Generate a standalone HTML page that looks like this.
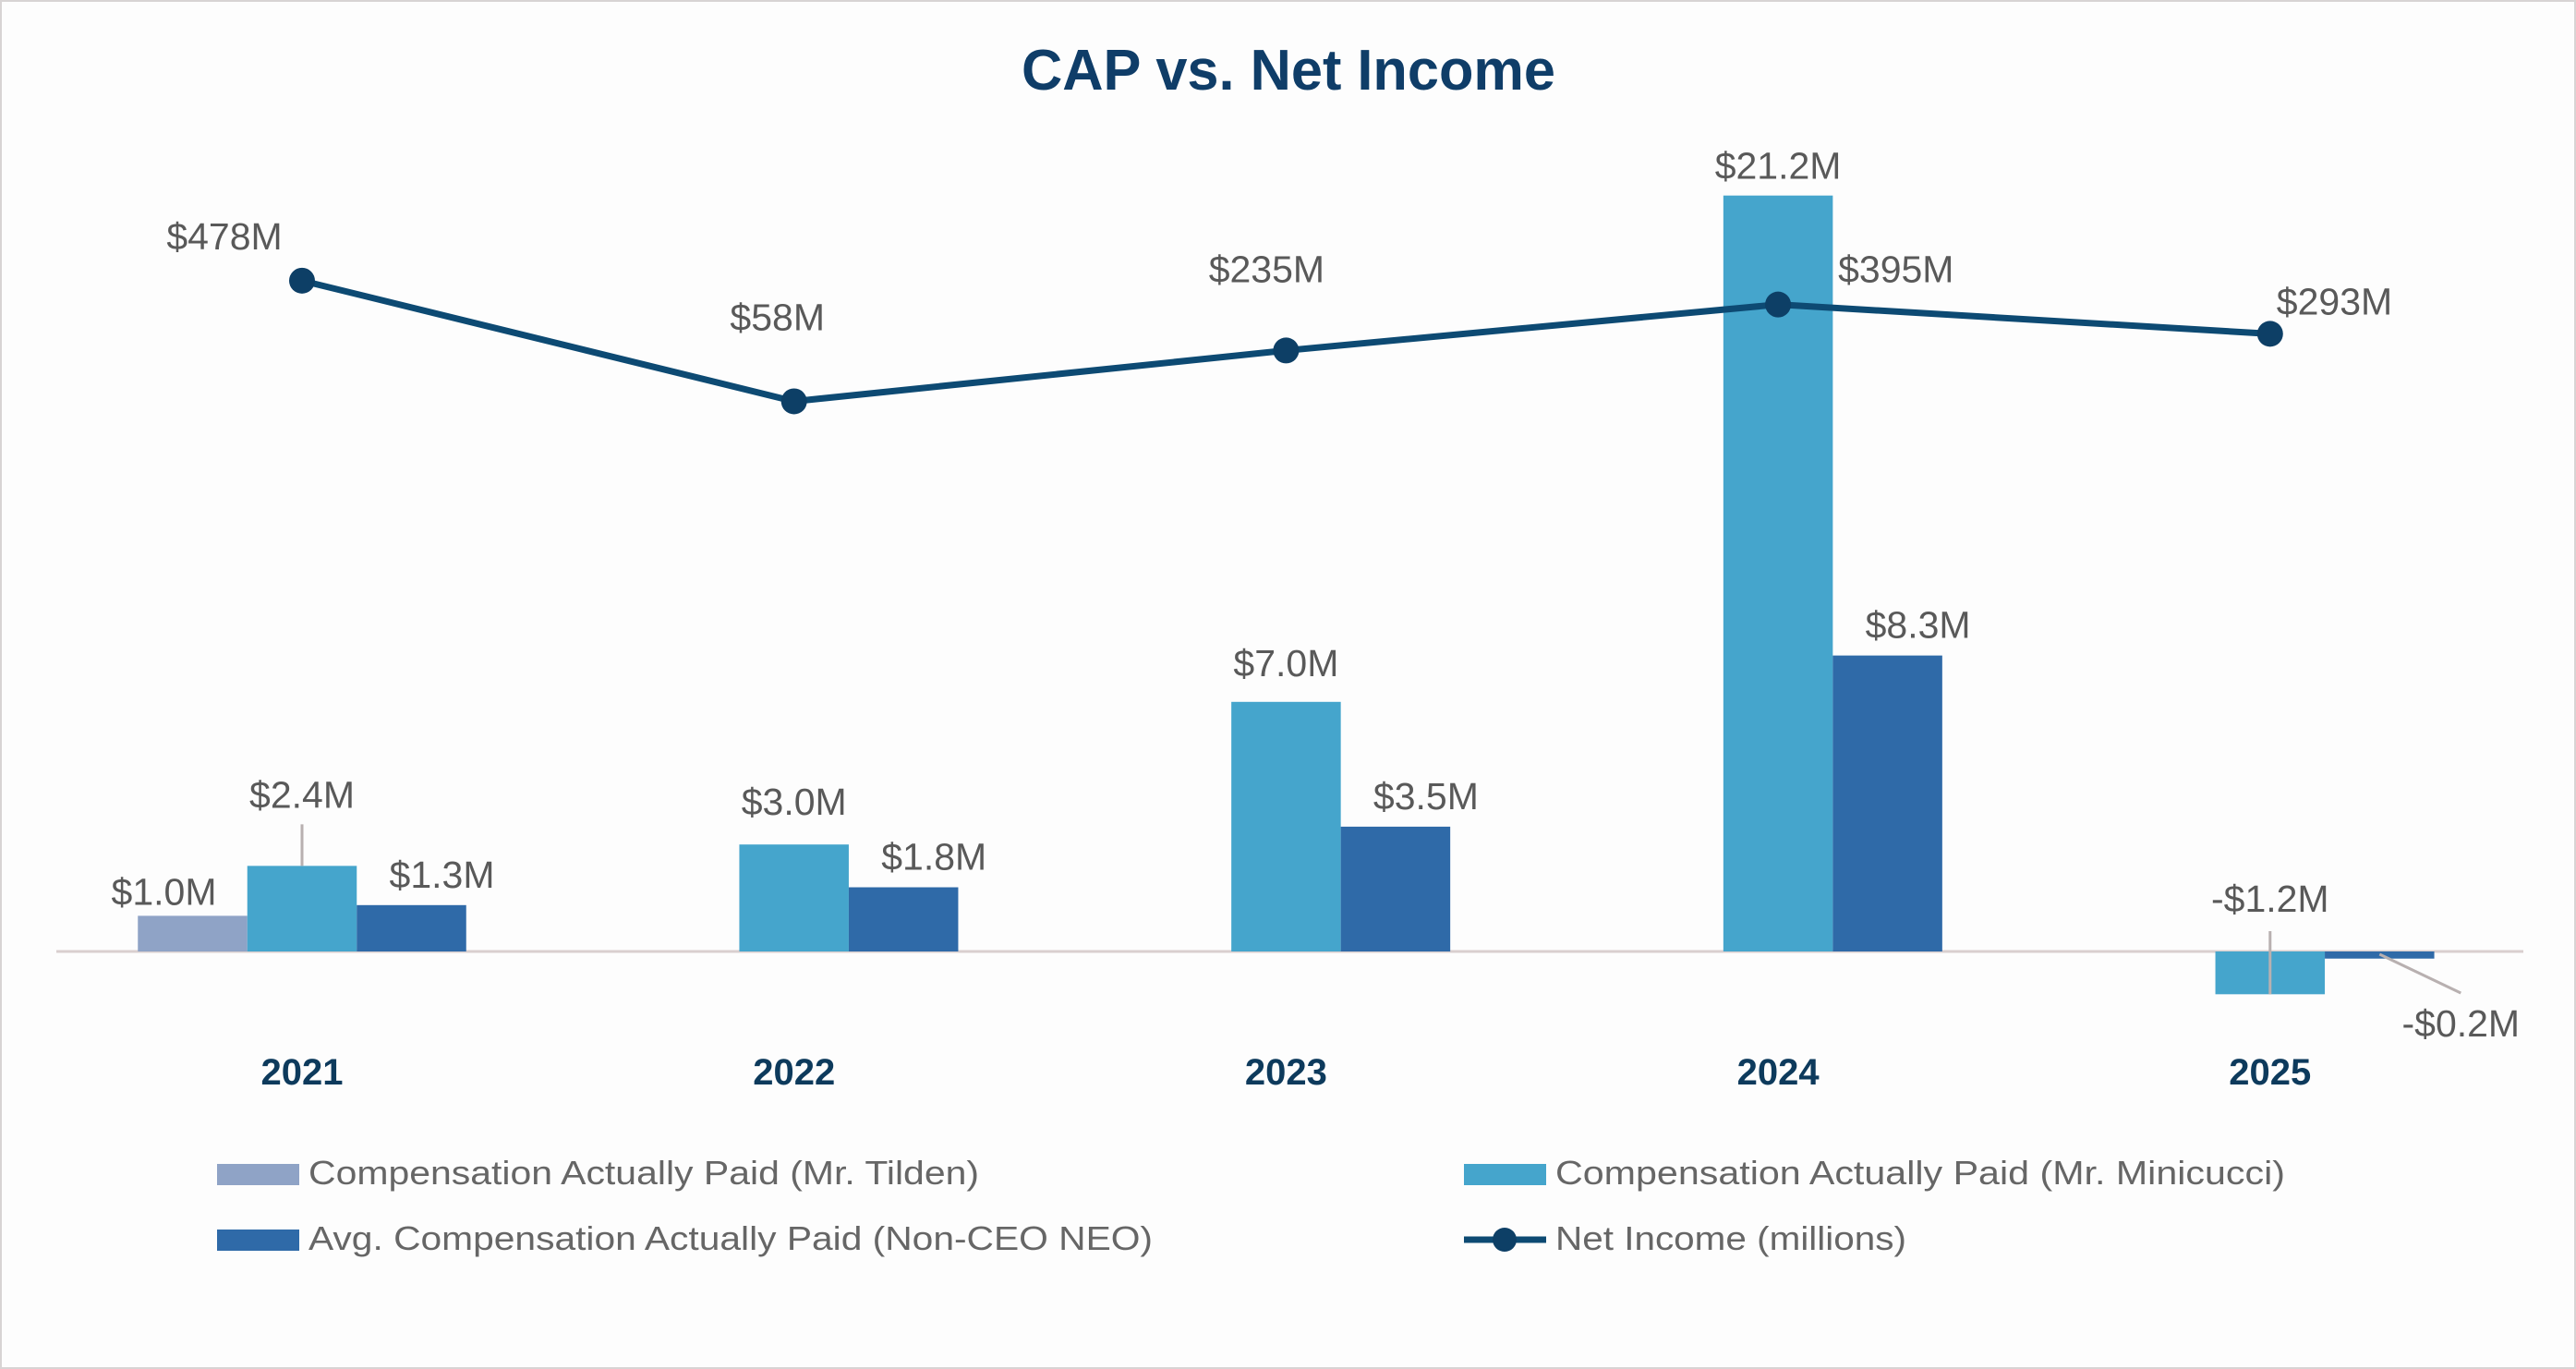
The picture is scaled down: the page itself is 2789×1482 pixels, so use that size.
<!DOCTYPE html>
<html><head><meta charset="utf-8"><title>CAP vs. Net Income</title>
<style>
html,body{margin:0;padding:0;background:#fff;}
svg{display:block;font-family:"Liberation Sans",sans-serif;}
</style></head>
<body>
<svg id="chart" width="2789" height="1482" viewBox="0 0 2789 1482">
<rect x="0" y="0" width="2789" height="1482" fill="#fdfdfd" stroke="#d8d4d4" stroke-width="4"/>
<text x="1395" y="97" text-anchor="middle" font-size="62" font-weight="bold" fill="#0f3d68" textLength="578" lengthAdjust="spacingAndGlyphs">CAP vs. Net Income</text>
<g id="plot"></g>
<g id="legend">
  <rect x="235" y="1260" width="89" height="23" fill="#8fa3c6"/>
  <text x="334" y="1282" font-size="36" fill="#666" textLength="726" lengthAdjust="spacingAndGlyphs">Compensation Actually Paid (Mr. Tilden)</text>
  <rect x="235" y="1331" width="89" height="23" fill="#2f6aa8"/>
  <text x="334" y="1353" font-size="36" fill="#666" textLength="914" lengthAdjust="spacingAndGlyphs">Avg. Compensation Actually Paid (Non-CEO NEO)</text>
  <rect x="1585" y="1260" width="89" height="23" fill="#45a5cc"/>
  <text x="1684" y="1282" font-size="36" fill="#666" textLength="790" lengthAdjust="spacingAndGlyphs">Compensation Actually Paid (Mr. Minicucci)</text>
  <line x1="1585" y1="1342" x2="1674" y2="1342" stroke="#0d4a73" stroke-width="7"/>
  <circle cx="1629" cy="1342" r="13" fill="#0d3f66"/>
  <text x="1684" y="1353" font-size="36" fill="#666" textLength="380" lengthAdjust="spacingAndGlyphs">Net Income (millions)</text>
</g>
</svg>
<script>
const categories = ["2021","2022","2023","2024","2025"];
const tildenValues = [1.0, null, null, null, null];
const minicucciValues = [2.4, 3.0, 7.0, 21.2, -1.2];
const neoValues = [1.3, 1.8, 3.5, 8.3, -0.2];
const netIncomeValues = [478, 58, 235, 395, 293];
const tildenLabels = ["$1.0M", "", "", "", ""];
const minicucciLabels = ["$2.4M", "$3.0M", "$7.0M", "$21.2M", "-$1.2M"];
const neoLabels = ["$1.3M", "$1.8M", "$3.5M", "$8.3M", "-$0.2M"];
const netIncomeLabels = ["$478M", "$58M", "$235M", "$395M", "$293M"];

const NS = "http://www.w3.org/2000/svg";
const plot = document.getElementById("plot");
const baseY = 1030, pxPerM = 38.6;
const niZero = 452.5, pxPerNI = 0.311;
const x0 = 327, step = 532.7, barW = 118.5;
function xCat(i){ return x0 + step*i; }
function yBar(v){ return baseY - v*pxPerM; }
function yNI(v){ return niZero - v*pxPerNI; }
function mk(tag, attrs){ const e=document.createElementNS(NS,tag); for(const k in attrs) e.setAttribute(k,attrs[k]); plot.appendChild(e); return e; }
function txt(x,y,s,anchor){ const t=mk("text",{x:x,y:y,"font-size":41,fill:"#595959","text-anchor":anchor||"middle"}); t.textContent=s; return t; }

const base = mk("line",{x1:61,y1:baseY,x2:2732,y2:baseY,stroke:"#d9cfcf","stroke-width":3});



const series = [
  {vals:tildenValues, labels:tildenLabels, off:-1, color:"#8fa3c6", name:"tilden"},
  {vals:minicucciValues, labels:minicucciLabels, off:0, color:"#45a5cc", name:"minicucci"},
  {vals:neoValues, labels:neoLabels, off:1, color:"#2f6aa8", name:"neo"}
];
series.forEach(s=>{
  s.vals.forEach((v,i)=>{
    if(v===null) return;
    const cx = xCat(i) + s.off*barW;
    const y1 = Math.min(yBar(v), baseY), h = Math.max(Math.abs(yBar(v)-baseY), 3);
    const r = mk("rect",{x:cx-barW/2,y:y1,width:barW,height:h,fill:s.color});
    
    
    let lx = cx, ly;
    if(v>=0){
      ly = yBar(v) - 18;
      if(s.name==="minicucci" && i===0){
        ly = yBar(v) - 63;
        const ld = mk("line",{x1:cx,y1:ly+18,x2:cx,y2:yBar(v),stroke:"#b8b0b0","stroke-width":3});
        
        
      } else if(s.name==="minicucci" && i===1){ ly = yBar(v) - 32; }
      else if(s.name==="tilden"){ lx = cx-31; ly = yBar(v) - 12; }
      else if(s.name==="minicucci" && i===2){ ly = yBar(v) - 28; }
      else if(s.name==="neo"){ lx = cx+33; ly = yBar(v) - 19; }
    } else if(s.name==="minicucci"){
      ly = baseY - 43;
      const ld = mk("line",{x1:cx,y1:baseY-22,x2:cx,y2:yBar(v),stroke:"#b8b0b0","stroke-width":3});
      
      
    } else {
      lx = cx + 88; ly = baseY + 92;
      const ld = mk("line",{x1:cx,y1:baseY+3,x2:cx+88,y2:baseY+45,stroke:"#b8b0b0","stroke-width":3});
      
      
    }
    const t = txt(lx, ly, s.labels[i]);
    
    
  });
});

const pts = netIncomeValues.map((v,i)=>xCat(i)+","+yNI(v)).join(" ");
const pl = mk("polyline",{points:pts,fill:"none",stroke:"#0d4a73","stroke-width":7,"stroke-linejoin":"round"});


const niLabelPos = [[-84,-34,"middle"],[-18,-77,"middle"],[-21,-74,"middle"],[65,-24,"start"],[7,-21,"start"]];
netIncomeValues.forEach((v,i)=>{
  const c = mk("circle",{cx:xCat(i),cy:yNI(v),r:14,fill:"#0d3f66"});
  
  
  const p = niLabelPos[i];
  const t = txt(xCat(i)+p[0], yNI(v)+p[1], netIncomeLabels[i], p[2]);
  
  
});

categories.forEach((c,i)=>{
  const t = mk("text",{x:xCat(i),y:1174,"font-size":40,"font-weight":"bold",fill:"#0d3a5c","text-anchor":"middle"});
  t.textContent = c;
  
  
});
</script>
</body></html>
